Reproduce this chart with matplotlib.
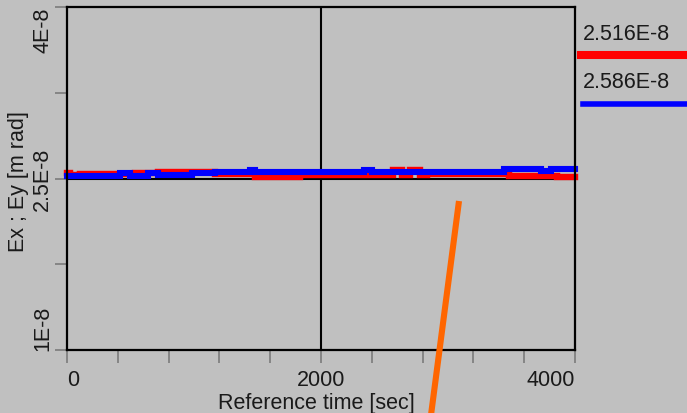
import matplotlib
matplotlib.use('Agg')
import matplotlib.pyplot as plt
from matplotlib.lines import Line2D

plt.rcParams['font.family'] = ['Liberation Sans', 'DejaVu Sans']

# Emittance history, x and y planes [m rad], step values vs reference time [sec]
t_x = [0, 24, 102, 535, 717, 1165, 1480, 1835, 2567, 2638, 2701, 2780, 2835, 3480, 3858, 4000]
ex = [2.544, 2.529, 2.538, 2.546, 2.561, 2.535, 2.514, 2.529, 2.576, 2.529,
      2.576, 2.529, 2.535, 2.522, 2.516, 2.516]
t_y = [0, 417, 496, 638, 717, 984, 1165, 1441, 1480, 2339, 2402, 2835, 3441, 3732, 3811, 4000]
ey = [2.526, 2.544, 2.526, 2.544, 2.531, 2.544, 2.553, 2.578, 2.553, 2.578,
      2.553, 2.560, 2.586, 2.566, 2.586, 2.586]
ex = [v * 1e-8 for v in ex]
ey = [v * 1e-8 for v in ey]

y_ticks = [1e-8, 2.5e-8, 4e-8]
y_labels = ['1E-8', '2.5E-8', '4E-8']
x_ticks = [0, 2000, 4000]
x_labels = ['0', '2000', '4000']

bg = '#c0c0c0'
txt = '#1a1a1a'
fs = 15.5
fig = plt.figure(figsize=(6.87, 4.14), dpi=100, facecolor=bg)
ax = fig.add_axes([67 / 687, 1 - 351 / 414, 508 / 687, 343 / 414], facecolor=bg)

ax.set_xlim(0, 4000)
ax.set_ylim(1e-8, 4e-8)

# crosshair grid through the centre
ax.axvline(2000, color='black', lw=1.5, zorder=1)
ax.axhline(2.5e-8, color='black', lw=1.5, zorder=1)

ax.plot(t_x, ex, drawstyle='steps-post', color='#ff0000', lw=4.6,
        solid_capstyle='projecting', solid_joinstyle='miter', clip_on=False, zorder=3)
ax.plot(t_y, ey, drawstyle='steps-post', color='#0000ff', lw=4.4,
        solid_capstyle='projecting', solid_joinstyle='miter', clip_on=False, zorder=4)

for s in ax.spines.values():
    s.set_color('black')
    s.set_linewidth(1.6)
    s.set_zorder(5)

ax.set_xticks(x_ticks)
ax.set_xticklabels(x_labels)
ax.set_xticks(range(0, 4001, 400), minor=True)
ax.set_yticks(y_ticks)
ax.set_yticklabels(y_labels, rotation=90, va='center')
ax.set_yticks([1.75e-8, 3.25e-8], minor=True)
ax.tick_params(which='both', direction='out', length=9, width=1.3, color='#808080',
               labelsize=fs, labelcolor=txt)
ax.tick_params(axis='x', pad=5)
ax.tick_params(axis='y', pad=1)

xl = ax.get_xticklabels()
xl[0].set_ha('left')
xl[-1].set_ha('right')
yl = ax.get_yticklabels()
yl[0].set_va('bottom')
yl[-1].set_va('top')

ax.set_xlabel('Reference time [sec]', fontsize=fs, color=txt, va='center')
ax.xaxis.set_label_coords((316 - 67) / 508, -(404 - 351) / 343)
ax.set_ylabel('Ex ; Ey [m rad]', fontsize=fs, color=txt, va='center')
ax.yaxis.set_label_coords(-(67 - 19) / 508, (351 - 182) / 343)

# last values at the right edge
fig.text(583 / 687, 1 - 35 / 414, f'{ex[-1] / 1e-8:.3f}E-8', fontsize=fs, color=txt, va='center')
fig.add_artist(Line2D([581 / 687, 1], [1 - 56 / 414] * 2, color='#ff0000', lw=5.8))
fig.text(583 / 687, 1 - 82 / 414, f'{ey[-1] / 1e-8:.3f}E-8', fontsize=fs, color=txt, va='center')
fig.add_artist(Line2D([583 / 687, 1], [1 - 105 / 414] * 2, color='#0000ff', lw=4.0))

# orange marker stroke
fig.add_artist(Line2D([459 / 687, 431 / 687], [1 - 202 / 414, 1 - 416 / 414],
                      color='#ff6600', lw=4.4, solid_capstyle='butt'))

fig.savefig('out.png', dpi=100, facecolor=bg)
